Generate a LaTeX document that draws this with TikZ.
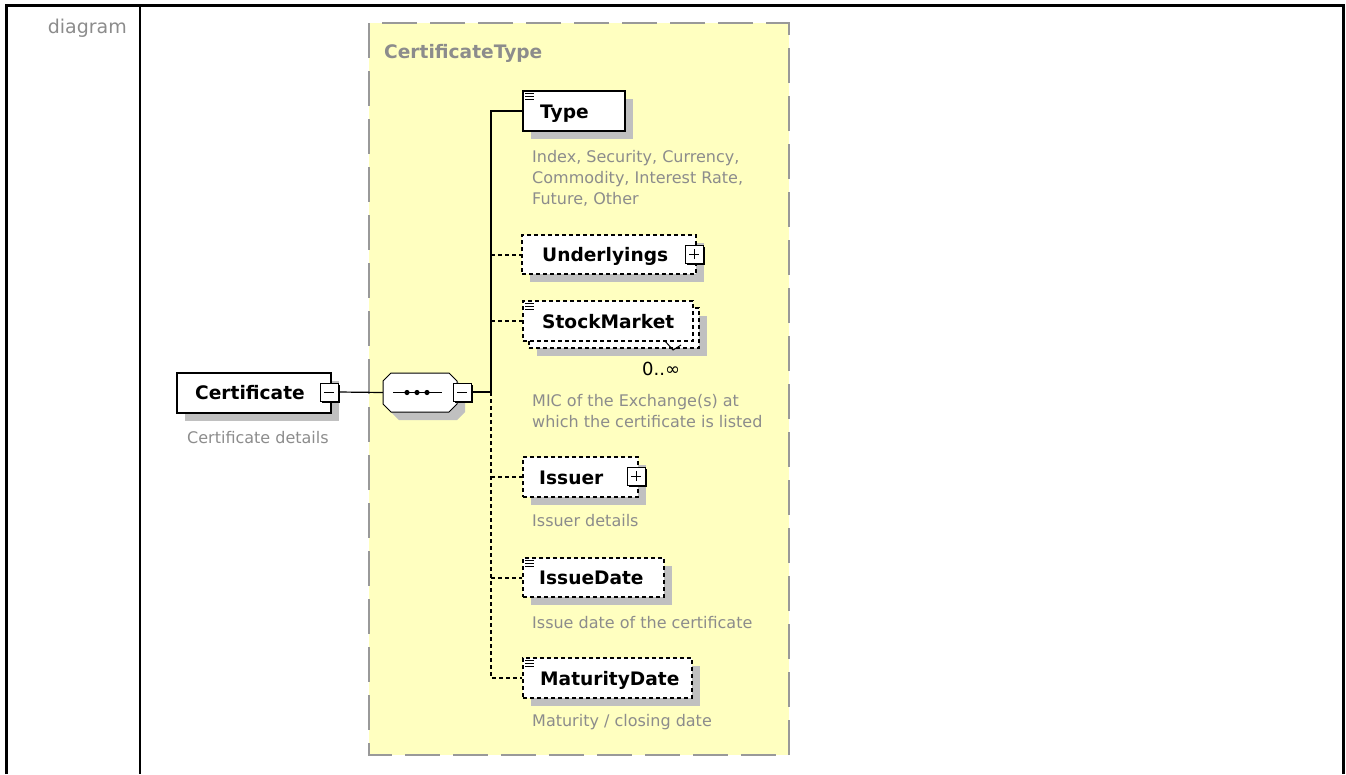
\documentclass[tikz,border=0pt]{standalone}
\usepackage{fontspec}
\setmainfont{DejaVu Sans}
\usetikzlibrary{calc,shadows}
\definecolor{seqyellow}{HTML}{FFFFC0}
\definecolor{shadegray}{HTML}{C0C0C0}
\definecolor{txtgray}{HTML}{8C8C8C}
\def\docicon(#1){\foreach \k in {0,3,6} \draw[line width=0.8pt] ([shift={(3,3+\k)}]#1.north west) -- ++(9,0);}
\tikzset{
  elembox/.style={draw, line width=2pt, fill=white, anchor=north west, inner sep=0pt},
  optbox/.style={elembox, dash pattern=on 4pt off 3pt},
  boxshadow/.style={drop shadow={shadow xshift=8pt, shadow yshift=-8pt, fill=shadegray, opacity=1}},
  elemlbl/.style={anchor=base west, inner sep=0pt, font=\fontsize{18.6}{22}\selectfont\bfseries},
  desc/.style={anchor=base west, inner sep=0pt, align=left, text=txtgray, font=\fontsize{16}{21}\selectfont},
  btn/.style={draw, line width=0.8pt, fill=white, minimum size=18pt, inner sep=0pt,
    drop shadow={shadow xshift=2pt, shadow yshift=-2pt, fill=black, opacity=1}},
  minusbtn/.style={btn, path picture={\draw[line width=1pt] ([xshift=-5pt]path picture bounding box.center) -- ([xshift=5pt]path picture bounding box.center);}},
  plusbtn/.style={btn, path picture={\draw[line width=1pt] ([xshift=-5pt]path picture bounding box.center) -- ([xshift=5pt]path picture bounding box.center);
    \draw[line width=1pt] ([yshift=-5pt]path picture bounding box.center) -- ([yshift=5pt]path picture bounding box.center);}},
  spineline/.style={line width=2pt},
  optline/.style={line width=2pt, dash pattern=on 4pt off 3pt}
}
\begin{document}
\begin{tikzpicture}[x=1pt, y=-1pt]
			%%%%% START %%%%%
			\useasboundingbox (0,0) rectangle (1346,774);
			
			\draw[line width=3pt] (6.5,774) -- (6.5,5) -- (1343,5) -- (1343,774);
			\draw[line width=2.5pt] (140,5) -- (140,774);
			\node[anchor=base east, inner sep=0pt, text=txtgray, font=\fontsize{19}{22}\selectfont] (celltitle) at (127,33) {diagram};
			
			\draw[fill=seqyellow, draw=black!40, line width=2pt, dash pattern=on 35pt off 13pt] (369,23) rectangle (789,755);
			\node[anchor=base west, inner sep=0pt, text=black!45, font=\fontsize{18.6}{22}\selectfont\bfseries] (typename) at (384,58) {CertificateType};
			
			\node[elembox, line width=1.5pt, boxshadow, minimum width=154pt, minimum height=40pt] (cert) at (176,372) {};
			\node[elemlbl] (cert-l) at ([shift={(19,7)}]cert.west) {Certificate};
			\node[desc] (cert-d) at (187,443) {Certificate details};
			\node[minusbtn] (cert-m) at (329,392) {};
			
			\fill[shadegray] (399,381) -- (457,381) -- (465,389) -- (465,412) -- (457,420) -- (399,420) -- (391,412) -- (391,389) -- cycle;
			\draw[line width=1pt, fill=white] (391,373) -- (449,373) -- (457,381) -- (457,404) -- (449,412) -- (391,412) -- (383,404) -- (383,381) -- cycle;
			\node[minimum width=74pt, minimum height=39pt, inner sep=0pt] (seq) at (420,392.5) {};
			\draw[line width=1.2pt] ([xshift=-27pt]seq.center) -- ([xshift=22pt]seq.center);
			\foreach \dx in {-13,-3,7} \fill ([xshift=\dx pt]seq.center) circle (2.6);
			\node[minusbtn] (seq-m) at (462,392) {};
			
			\node[elembox, boxshadow, minimum width=102pt, minimum height=40pt] (type) at (522,90) {};
			\docicon(type)
			\node[elemlbl] (type-l) at ([shift={(18,7)}]type.west) {Type};
			\node[desc] (type-d) at (532,204) {Index, Security, Currency,\\Commodity, Interest Rate,\\Future, Other};
			
			\node[optbox, boxshadow, minimum width=174pt, minimum height=39pt] (under) at (521,234) {};
			\node[elemlbl] (under-l) at ([shift={(21,7)}]under.west) {Underlyings};
			\node[plusbtn] (under-p) at (694,254) {};
			
			\node[optbox, boxshadow, minimum width=170pt, minimum height=40pt] (stock-b) at (528,307) {};
			\node[optbox, minimum width=170pt, minimum height=40pt] (stock) at (522,300) {};
			\docicon(stock)
			\node[elemlbl] (stock-l) at ([shift={(20,7)}]stock.west) {StockMarket};
			\draw[line width=1pt] (665,341) -- (673,350) -- (681,345);
			\node[anchor=base west, inner sep=0pt, font=\fontsize{18}{21}\selectfont] (stock-c) at (642,375) {0..∞};
			\node[desc] (stock-d) at (532,427) {MIC of the Exchange(s) at\\which the certificate is listed};
			
			\node[optbox, boxshadow, minimum width=115pt, minimum height=40pt] (issuer) at (522,456) {};
			\node[elemlbl] (issuer-l) at ([shift={(17,7)}]issuer.west) {Issuer};
			\node[plusbtn] (issuer-p) at (636,476) {};
			\node[desc] (issuer-d) at (532,526) {Issuer details};
			
			\node[optbox, boxshadow, minimum width=141pt, minimum height=39pt] (idate) at (522,557) {};
			\docicon(idate)
			\node[elemlbl] (idate-l) at ([shift={(17,7)}]idate.west) {IssueDate};
			\node[desc] (idate-d) at (532,628) {Issue date of the certificate};
			
			\node[optbox, boxshadow, minimum width=169pt, minimum height=40pt] (mat) at (522,657) {};
			\docicon(mat)
			\node[elemlbl] (mat-l) at ([shift={(18,7)}]mat.west) {MaturityDate};
			\node[desc] (mat-d) at (532,726) {Maturity / closing date};
			
			\coordinate (spine) at (491,392);
			\draw[line width=1.2pt] (cert-m.east) -- (seq.west);
			\draw[line width=1.2pt] (seq-m.east) -- (spine);
			\draw[spineline] (spine) |- (type.west);
			\draw[optline] (spine |- under.west) -- (under.west);
			\draw[optline] (spine |- stock.west) -- (stock.west);
			\draw[optline] (spine) |- (mat.west);
			\draw[optline] (spine |- issuer.west) -- (issuer.west);
			\draw[optline] (spine |- idate.west) -- (idate.west);
			
			%%%%% END %%%%%
\end{tikzpicture}
\end{document}
